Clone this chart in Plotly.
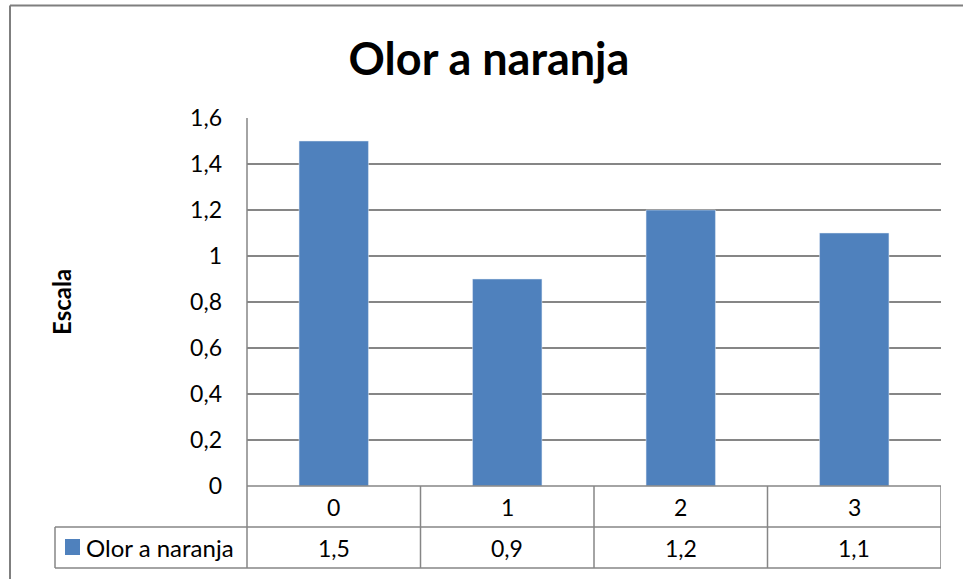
import plotly.graph_objects as go

categories = ["0", "1", "2", "3"]
values = [1.5, 0.9, 1.2, 1.1]
series_name = "Olor a naranja"
chart_title = "Olor a naranja"
y_title = "Escala"
y_tick_values = [0, 0.2, 0.4, 0.6, 0.8, 1.0, 1.2, 1.4, 1.6]

BAR = "#4F81BD"
GRID = "#868686"
FONT = "Lato"

W, H = 963, 579
L, R, T, B = 247, 22, 118, 93
pw, ph = W - L - R, H - T - B


def px_x(p):
    return (p - L) / pw


def px_y(p):
    return (H - B - p) / ph


xs = list(range(len(categories)))

fig = go.Figure()
fig.add_trace(go.Bar(x=xs, y=values, name=series_name, marker_color=BAR,
                     width=0.4, showlegend=False, hoverinfo="skip"))

fig.update_layout(
    width=W, height=H,
    margin=dict(l=L, r=R, t=T, b=B),
    paper_bgcolor="white", plot_bgcolor="white",
    separators=", ",
    font=dict(family=FONT, color="black", size=23),
    title=dict(text="<b>" + chart_title + "</b>", x=px_x(489), xref="paper",
               xanchor="center", y=1 - 59 / H, yanchor="middle",
               font=dict(size=45, family=FONT, color="black")),
    xaxis=dict(range=[-0.5, len(categories) - 0.5], showticklabels=False,
               showgrid=False, zeroline=False, showline=False, ticks=""),
    yaxis=dict(range=[0, 1.6], tickvals=y_tick_values, showgrid=True,
               gridcolor=GRID, gridwidth=1.5, zeroline=False,
               showline=False, ticks="", ticklabelstandoff=24,
               tickfont=dict(size=23)),
    bargap=0.6,
)

# y-axis title
fig.add_annotation(text="<b>" + y_title + "</b>", xref="paper", yref="paper",
                   x=px_x(61), y=px_y(302), xanchor="center", yanchor="middle",
                   showarrow=False, textangle=-90,
                   font=dict(size=24, family=FONT))

line = dict(color=GRID, width=1.5)
n = len(categories)
row1_bot = px_y(527)
row2_bot = px_y(568)
left_cell = px_x(55)

# axis line (left) extended into table rows
fig.add_shape(type="line", xref="paper", yref="paper", x0=0, x1=0,
              y0=row2_bot, y1=1, line=line)
# horizontal table lines
fig.add_shape(type="line", xref="paper", yref="paper", x0=0, x1=1,
              y0=0, y1=0, line=line)
for yy in (row1_bot, row2_bot):
    fig.add_shape(type="line", xref="paper", yref="paper", x0=left_cell, x1=1,
                  y0=yy, y1=yy, line=line)
# vertical table lines at category boundaries
for i in range(n):
    xb = i + 0.5
    fig.add_shape(type="line", xref="x", yref="paper", x0=xb, x1=xb,
                  y0=row2_bot, y1=0, line=line)
fig.add_shape(type="line", xref="paper", yref="paper", x0=left_cell, x1=left_cell,
              y0=row2_bot, y1=row1_bot, line=line)

# table text
for i, (c, v) in enumerate(zip(categories, values)):
    fig.add_annotation(text=c, x=i, xref="x", y=(0 + row1_bot) / 2, yref="paper",
                       xanchor="center", yanchor="middle",
                       showarrow=False, font=dict(size=23, family=FONT))
    fig.add_annotation(text=f"{v:.1f}".replace(".", ","), x=i, xref="x",
                       y=(row1_bot + row2_bot) / 2, yref="paper",
                       xanchor="center", yanchor="middle",
                       showarrow=False, font=dict(size=23, family=FONT))

# legend key in table
fig.add_shape(type="rect", xref="paper", yref="paper",
              x0=px_x(65), x1=px_x(80), y0=px_y(555), y1=px_y(539),
              fillcolor=BAR, line=dict(width=0))
fig.add_annotation(text=series_name, xref="paper", yref="paper",
                   x=px_x(84), y=(row1_bot + row2_bot) / 2,
                   xanchor="left", yanchor="middle",
                   showarrow=False, font=dict(size=24, family=FONT))

# outer chart border (top and left visible)
border = dict(color="#7F7F7F", width=2)
fig.add_shape(type="line", xref="paper", yref="paper", x0=px_x(10), x1=px_x(970),
              y0=px_y(5.5), y1=px_y(5.5), line=border)
fig.add_shape(type="line", xref="paper", yref="paper", x0=px_x(10), x1=px_x(10),
              y0=px_y(5.5), y1=px_y(590), line=border)

fig.write_html("out.html", config={"displayModeBar": False},
               post_script="document.body.style.margin='0';")
